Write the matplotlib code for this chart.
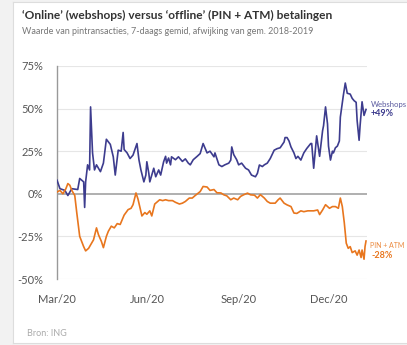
import matplotlib
matplotlib.use("Agg")
import matplotlib.pyplot as plt
import pandas as pd

# webshops (afwijking in %)
web_dates = ["2020-03-01", "2020-03-04", "2020-03-09", "2020-03-12", "2020-03-16", "2020-03-22",
             "2020-03-24", "2020-03-28", "2020-03-29", "2020-03-30", "2020-04-01", "2020-04-03",
             "2020-04-04", "2020-04-06", "2020-04-08", "2020-04-10", "2020-04-14", "2020-04-17",
             "2020-04-20", "2020-04-24", "2020-04-27", "2020-04-29", "2020-05-02", "2020-05-05",
             "2020-05-07", "2020-05-08", "2020-05-11", "2020-05-14", "2020-05-17", "2020-05-21",
             "2020-05-23", "2020-05-25", "2020-05-28", "2020-05-30", "2020-05-31", "2020-06-02",
             "2020-06-03", "2020-06-05", "2020-06-07", "2020-06-09", "2020-06-12", "2020-06-14",
             "2020-06-17", "2020-06-19", "2020-06-20", "2020-06-22", "2020-06-24", "2020-06-25",
             "2020-06-29", "2020-07-02", "2020-07-06", "2020-07-09", "2020-07-12", "2020-07-14",
             "2020-07-17", "2020-07-21", "2020-07-24", "2020-07-27", "2020-07-31", "2020-08-03",
             "2020-08-07", "2020-08-08", "2020-08-12", "2020-08-15", "2020-08-18", "2020-08-22",
             "2020-08-24", "2020-08-25", "2020-08-27", "2020-08-30", "2020-09-01", "2020-09-04",
             "2020-09-08", "2020-09-11", "2020-09-14", "2020-09-18", "2020-09-20", "2020-09-22",
             "2020-09-25", "2020-09-27", "2020-09-30", "2020-10-03", "2020-10-07", "2020-10-10",
             "2020-10-13", "2020-10-17", "2020-10-18", "2020-10-20", "2020-10-22", "2020-10-24",
             "2020-10-27", "2020-10-29", "2020-10-31", "2020-11-03", "2020-11-06", "2020-11-09",
             "2020-11-13", "2020-11-14", "2020-11-16", "2020-11-19", "2020-11-22", "2020-11-25",
             "2020-11-26", "2020-11-28", "2020-11-30", "2020-12-01", "2020-12-03", "2020-12-05",
             "2020-12-06", "2020-12-08", "2020-12-10", "2020-12-12", "2020-12-13", "2020-12-16",
             "2020-12-18", "2020-12-20", "2020-12-23", "2020-12-25", "2020-12-27", "2020-12-29",
             "2020-12-30", "2021-01-01", "2021-01-02", "2021-01-04", "2021-01-06", "2021-01-08"]
web_vals = [8, 3, 2, -1, 3, 2.5,
            9, 7, -8, 7, 17, 14,
            51, 24, 14, 17, 13, 18,
            32, 29, 21.7, 11, 25.6, 25,
            36, 26, 24, 20.7, 22.7, 29.5,
            20, 14, 7, 11, 18.8, 12,
            7, 11, 15, 10, 14, 11,
            18.8, 22, 18, 21, 17, 21.7,
            20, 21.7, 19, 20.5, 18, 17,
            20, 22, 23.6, 29.5, 24, 25,
            21.7, 24, 17, 16, 17, 18,
            19.8, 27.5, 23, 20, 17, 18,
            15, 14, 11, 10, 12, 16.9,
            16, 17, 18, 20.7, 25.6, 26.5,
            27, 30.4, 33, 33, 31, 27.5,
            24, 20.7, 22, 19.8, 24, 26.6,
            29.5, 29.5, 15, 34, 22, 37,
            40, 51, 41, 28, 19.8, 25,
            24, 27, 28, 31, 45, 57.6,
            65, 59, 58.5, 56, 54.6, 53.7,
            43, 31.4, 40, 54, 46, 49.5]

# PIN + ATM (afwijking in %), dagen na 1 maart 2020
pin_days = [0, 3, 6, 9, 11, 13, 15, 17, 18, 20, 23, 27, 29, 32, 35, 37, 40, 42, 45, 47,
            50, 52, 55, 58, 61, 64, 68, 72, 75, 77, 80, 82, 84, 86, 89, 91, 94, 96, 99, 101,
            104, 107, 110, 113, 117, 120, 124, 127, 130, 134, 137, 140, 145, 148, 152, 155, 159, 162, 166, 169,
            172, 176, 179, 183, 186, 189, 193, 196, 200, 203, 206, 210, 213, 216, 221, 224, 226, 230, 233, 237,
            240, 243, 247, 250, 254, 257, 260, 264, 266, 269, 272, 276, 279, 282, 285, 287, 289, 291, 293, 295,
            297, 299, 302, 304, 306, 308, 309, 311, 312, 313]
pin_vals = [1, 2, 0, 3, 6, 5, 2, 0, -1, -11, -25, -31, -33.5, -32, -29, -27, -20, -24, -28, -31.6,
            -25, -22, -19, -20, -17.5, -18, -12.5, -9.3, -8.5, -6.4, 0.5, -3, -8, -13, -11, -12, -10, -13, -6, -5,
            -3.5, -4, -3.5, -4, -4, -5, -6, -5.5, -4.5, -2.5, -2.5, -1, 1.3, 4.3, 4, 2, 2.5, 0.6, 0.5, -0.6,
            -1.2, -3.5, -2.5, -3.5, -1.5, -0.6, 0.4, -0.6, -0.8, -2.5, -0.5, -2.5, -4.5, -5.5, -5.5, -3.5, -2.5, -5.5, -6.5, -7.5,
            -11.3, -11.5, -10, -10.5, -10, -10, -10, -9.5, -12.2, -9.5, -6.4, -8.5, -7.5, -7.5, -8.5, -2.5, -7.5, -17, -29, -32,
            -31, -34.5, -33.5, -36, -33, -37.4, -33, -38.4, -31, -27.7]

yticks = [-50, -25, 0, 25, 50, 75]
xtick_dates = ["2020-03-01", "2020-06-01", "2020-09-01", "2020-12-01"]
xtick_labels = ["Mar/20", "Jun/20", "Sep/20", "Dec/20"]

blue = "#3d3c8e"
orange = "#e8761e"

plt.rcParams['font.family'] = ['Lato', 'DejaVu Sans']

fig = plt.figure(figsize=(4.07, 3.45), dpi=100, facecolor="#f2f2f2")

# witte kaart met lichte rand (achtergrond)
bg = fig.add_axes([13 / 407, 2 / 345, 1, 341 / 345], zorder=-1)
bg.set_facecolor("white")
bg.set_xticks([])
bg.set_yticks([])
for s in bg.spines.values():
    s.set_color("#dddddd")
    s.set_linewidth(0.8)

ax = fig.add_axes([57 / 407, 1 - 279 / 345, 310 / 407, 213 / 345])
ax.set_facecolor("none")

web_x = pd.to_datetime(web_dates)
pin_x = pd.Timestamp("2020-03-01") + pd.to_timedelta(pin_days, unit="D")

for t in yticks:
    if t == 0:
        ax.axhline(t, color="#9a9a9a", lw=1.1, zorder=1)
    else:
        ax.axhline(t, color="#e6e6e6", lw=0.8, zorder=1)

ax.plot(web_x, web_vals, color=blue, lw=1.2, zorder=3)
ax.plot(pin_x, pin_vals, color=orange, lw=1.2, zorder=3)

ax.set_ylim(-50, 75)
ax.set_xlim(pd.Timestamp("2020-03-01"), pd.Timestamp("2021-01-09"))
ax.set_yticks(yticks)
ax.set_yticklabels([f"{t}%" for t in yticks])
ax.set_xticks(pd.to_datetime(xtick_dates))
ax.set_xticklabels(xtick_labels)
ax.tick_params(length=0, labelsize=8, colors="#555555")
ax.tick_params(axis="y", pad=10)
ax.tick_params(axis="x", pad=11)
for s in ["top", "right", "bottom"]:
    ax.spines[s].set_visible(False)
ax.spines["left"].set_color("#999999")
ax.spines["left"].set_linewidth(1.0)

# labels rechts
fig.text(371 / 407, 1 - 104 / 345, "Webshops", color=blue, fontsize=5.6, va="center", alpha=0.85)
fig.text(371 / 407, 1 - 114 / 345, "+49%", color=blue, fontsize=6.5, va="center", fontweight="bold")
fig.text(370 / 407, 1 - 245 / 345, "PIN + ATM", color=orange, fontsize=5.0, va="center", alpha=0.85)
fig.text(371 / 407, 1 - 256 / 345, "-28%", color=orange, fontsize=6.5, va="center", fontweight="bold")

fig.text(22 / 407, 1 - 15 / 345, "‘Online’ (webshops) versus ‘offline’ (PIN + ATM) betalingen",
         fontsize=8.6, fontweight="bold", color="#333333", va="center")
fig.text(22 / 407, 1 - 31 / 345, "Waarde van pintransacties, 7-daags gemid, afwijking van gem. 2018-2019",
         fontsize=6.5, color="#777777", va="center")
fig.text(27 / 407, 1 - 333 / 345, "Bron: ING", fontsize=6.5, color="#aaaaaa", va="center")

fig.savefig("out.png", dpi=100, facecolor=fig.get_facecolor())
